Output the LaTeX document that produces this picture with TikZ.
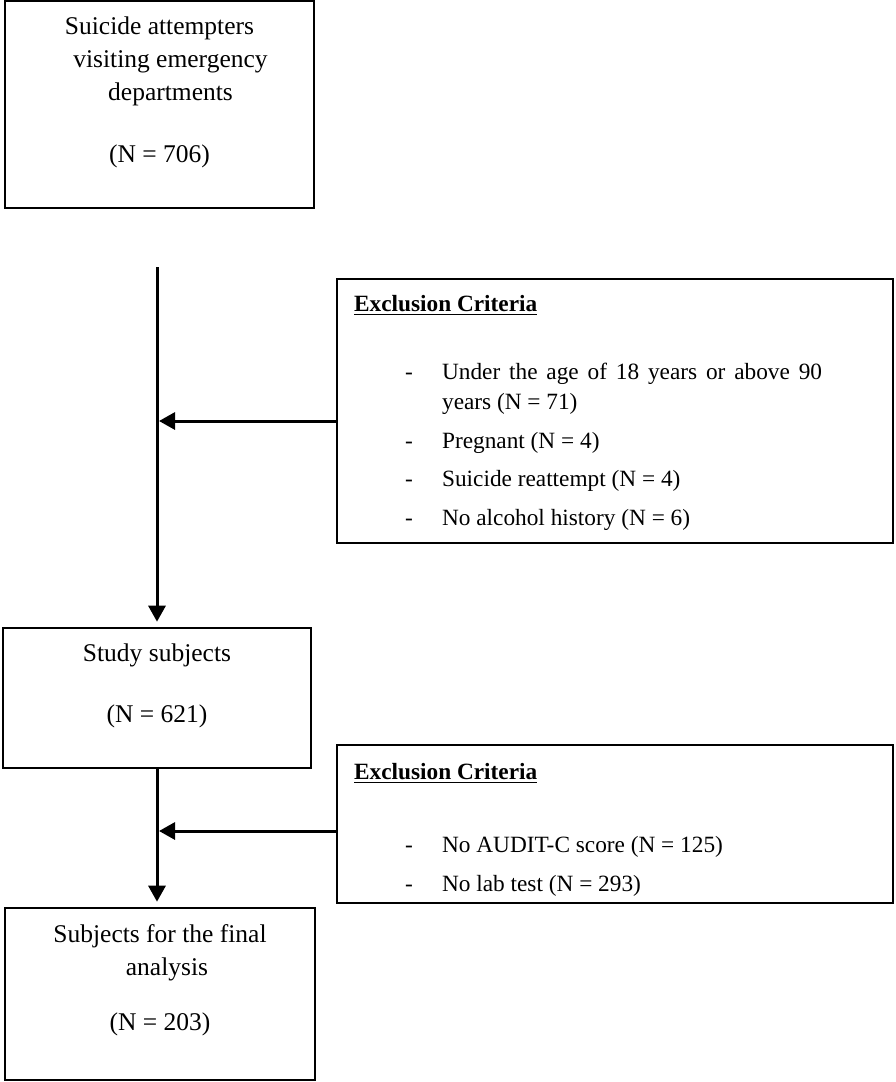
\documentclass[tikz,border=0pt]{standalone}
\usepackage{fontspec}
\setmainfont{Liberation Serif}
\usetikzlibrary{arrows.meta,positioning}

% dash list used in the exclusion boxes
\newenvironment{critlist}
  {\begin{list}{-}{\setlength\leftmargin{44pt}%
     \setlength\labelwidth{18.5pt}\setlength\labelsep{0pt}%
     \setlength\itemsep{4.25pt}\setlength\parsep{0pt}%
     \setlength\topsep{0pt}\setlength\partopsep{0pt}%
     \renewcommand\makelabel[1]{##1\hfil}}}
  {\end{list}}

\begin{document}
\begin{tikzpicture}[x=0.5pt, y=-0.5pt,
  box/.style={draw, line width=1.3pt, inner sep=0pt},
  boxtext/.style={align=center, inner sep=0pt, font=\fontsize{12.75}{16.5}\selectfont},
  crittext/.style={text width=234pt, align=justify, inner sep=0pt, font=\fontsize{11.65}{15}\selectfont},
  flow/.style={line width=1.5pt, -{Triangle[length=8pt,width=8.5pt]}}]
  \useasboundingbox (0,0) rectangle (895,1082);

  % boxes
  \node[box, minimum width=154.5pt, minimum height=103.5pt] (attempt) at (159.5,104.5) {};
  \node[box, minimum width=278pt, minimum height=132pt] (excl1) at (615,411) {};
  \node[box, minimum width=154pt, minimum height=70pt] (study) at (157,698) {};
  \node[box, minimum width=278pt, minimum height=79pt] (excl2) at (615,824) {};
  \node[box, minimum width=155pt, minimum height=86pt] (final) at (160,994) {};

  % texts
  \node[boxtext, below=8.2pt of attempt.north] (attempttxt) {Suicide attempters\\
    \hspace*{11pt}visiting emergency\\ \hspace*{11pt}departments\\[14.5pt] (N = 706)};
  \node[boxtext, below=8.2pt of study.north] (studytxt) {Study subjects\\[14pt] (N = 621)};
  \node[boxtext, below=8.7pt of final.north] (finaltxt) {Subjects for the final\\
    \hspace*{7pt}analysis\\[11pt] (N = 203)};

  \node[crittext, below right=8.65pt and 9pt of excl1.north west] (excl1txt) {%
    \underline{\textbf{Exclusion Criteria}}\par\vspace{19pt}
    \begin{critlist}
      \item Under the age of 18 years or above 90 years (N = 71)
      \item Pregnant (N = 4)
      \item Suicide reattempt (N = 4)
      \item No alcohol history (N = 6)
    \end{critlist}};
  \node[crittext, below right=9.65pt and 9pt of excl2.north west] (excl2txt) {%
    \underline{\textbf{Exclusion Criteria}}\par\vspace{21.5pt}
    \begin{critlist}
      \item No AUDIT-C score (N = 125)
      \item No lab test (N = 293)
    \end{critlist}};

  % connectors
  \coordinate (split1) at (157,267);
  \coordinate (in1) at ([yshift=-5pt]excl1.west);
  \coordinate (in2) at ([yshift=-3.5pt]excl2.west);
  \draw[flow, shorten >=2.5pt] (split1) -- (split1 |- study.north);
  \draw[flow, shorten >=1pt] (in1) -- (in1 -| split1);
  \draw[flow, shorten >=2.5pt] (study.south) -- (study.south |- final.north);
  \draw[flow, shorten >=1pt] (in2) -- (in2 -| study.south);
\end{tikzpicture}
\end{document}
